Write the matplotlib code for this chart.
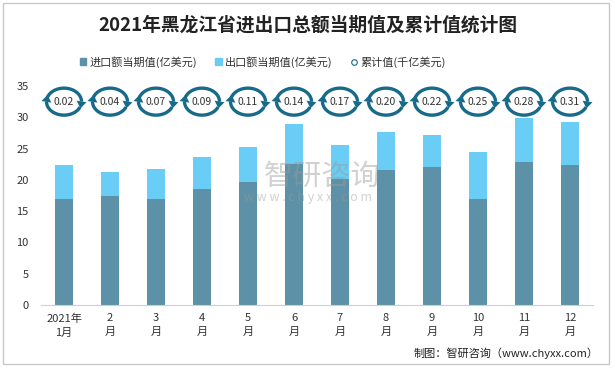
import numpy as np
import matplotlib.pyplot as plt
import matplotlib.transforms as mtransforms
from matplotlib.patches import Patch, Rectangle, Polygon
from matplotlib.lines import Line2D

plt.rcParams['font.family'] = ['Noto Sans CJK SC', 'DejaVu Sans']

months = ["2021年\n1月", "2\n月", "3\n月", "4\n月", "5\n月", "6\n月",
          "7\n月", "8\n月", "9\n月", "10\n月", "11\n月", "12\n月"]
total = [22.3, 21.2, 21.7, 23.6, 25.2, 29.0, 25.5, 27.6, 27.2, 24.4, 29.9, 29.2]
imports = [17.0, 17.5, 16.9, 18.5, 19.6, 22.5, 20.1, 21.5, 22.0, 16.9, 22.8, 22.3]
exports = [t - i for t, i in zip(total, imports)]
cumulative = [0.02, 0.04, 0.07, 0.09, 0.11, 0.14, 0.17, 0.20, 0.22, 0.25, 0.28, 0.31]
icon_level = 32.5  # marker row height on the value axis

c_imp = "#5d91a8"
c_exp = "#6acdf5"
c_ring = "#176a8a"

fig = plt.figure(figsize=(6.15, 3.68), dpi=100)
ax = fig.add_axes([41 / 615, 63 / 368, 552 / 615, 219 / 368])

x = np.arange(len(months))
ax.bar(x, imports, width=0.41, color=c_imp, zorder=2)
ax.bar(x, exports, width=0.41, bottom=imports, color=c_exp, zorder=2)

ax.set_xlim(-0.5, 11.5)
ax.set_ylim(0, 35)
ax.set_yticks(range(0, 36, 5))
ax.set_xticks(x)
ax.set_xticklabels(months, fontsize=8, color="#333333", linespacing=1.5)
ax.tick_params(axis="y", length=0, labelsize=8, labelcolor="#333333", pad=9)
ax.tick_params(axis="x", length=0, pad=6)
for s in ["left", "right", "top"]:
    ax.spines[s].set_visible(False)
ax.spines["bottom"].set_color("#d0d0d0")


def ring_arrow(tr, a0, a1, rx=17.5, ry=13.5):
    # elliptical arc in pixel offsets, plus a triangular head at the end
    t = np.radians(np.linspace(a0, a1, 40))
    px, py = rx * np.cos(t), ry * np.sin(t)
    ax.add_line(Line2D(px[:-3], py[:-3], color=c_ring, lw=2.4, transform=tr,
                       solid_capstyle="butt", zorder=4))
    d = np.array([px[-1] - px[-4], py[-1] - py[-4]])
    d = d / np.hypot(*d)
    nrm = np.array([-d[1], d[0]])
    end = np.array([px[-1], py[-1]])
    tip = end + d * 3.5
    base = end - d * 3.5
    head = [tip, base + nrm * 5, base - nrm * 5]
    ax.add_patch(Polygon(head, closed=True, color=c_ring, transform=tr, zorder=4, lw=0))


# circular-arrow markers for the cumulative series
for xi, val in zip(x, cumulative):
    tr = mtransforms.Affine2D() + mtransforms.ScaledTranslation(xi, icon_level, ax.transData)
    ring_arrow(tr, 165, -14)
    ring_arrow(tr, -24, -194)
    ax.text(xi, icon_level, f"{val:.2f}", ha="center", va="center",
            fontsize=7.5, color="#333333", zorder=5)

# watermark
fig.text(0.524, 0.52, "智研咨询", fontsize=21, color="#9a9a9a", alpha=0.45,
         ha="center", va="center", zorder=3)
fig.text(0.5, 0.462, "w w w . c h y x x . c o m", fontsize=9, color="#9a9a9a",
         alpha=0.45, ha="center", va="center", zorder=3)

fig.text(0.5, 0.932, "2021年黑龙江省进出口总额当期值及累计值统计图", fontsize=13.5,
         fontweight="bold", ha="center", va="center", color="#222222")

handles = [Patch(color=c_imp), Patch(color=c_exp),
           Line2D([], [], marker="o", ls="", markersize=4, markerfacecolor="white",
                  markeredgecolor=c_ring, markeredgewidth=0.8)]
labels = ["进口额当期值(亿美元)", "出口额当期值(亿美元)", "累计值(千亿美元)"]
fig.legend(handles, labels, loc="center", bbox_to_anchor=(0.427, 0.832), ncol=3,
           frameon=False, fontsize=8, handlelength=0.6, handleheight=0.6,
           handletextpad=0.3, columnspacing=1.6, labelcolor="#333333")

fig.text(0.973, 0.04, "制图：智研咨询（www.chyxx.com）", fontsize=8,
         ha="right", va="center", color="#222222")

fig.patches.append(Rectangle((3 / 615, 4 / 368), 606 / 615, 361 / 368, transform=fig.transFigure,
                             fill=False, edgecolor="#c8c8c8", lw=1))

fig.savefig("out.png", dpi=100)
